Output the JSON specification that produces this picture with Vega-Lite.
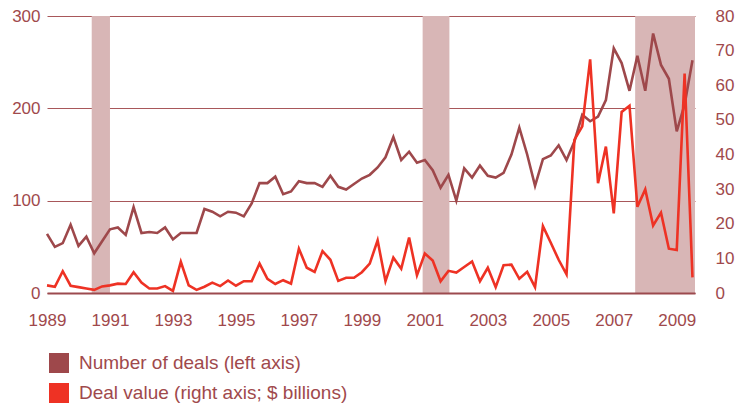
{
  "$schema": "https://vega.github.io/schema/vega-lite/v6.json",
  "autosize": {"type": "none"},
  "width": 648,
  "height": 277,
  "padding": {"left": 47, "top": 16, "right": 43, "bottom": 115},
  "background": "white",
  "config": {
    "view": {"stroke": null},
    "font": "Liberation Sans",
    "axis": {"labelFont": "Liberation Sans", "labelFontSize": 17, "labelColor": "#a0494c", "ticks": false, "domain": false, "title": null},
    "legend": {"labelFont": "Liberation Sans"}
  },
  "datasets": {
    "series": [
      {"t": 1989.0, "deals": 64, "value": 2.2}, {"t": 1989.25, "deals": 50, "value": 1.8}, {"t": 1989.5, "deals": 54, "value": 6.3}, {"t": 1989.75, "deals": 74, "value": 2.1},
      {"t": 1990.0, "deals": 51, "value": 1.7}, {"t": 1990.25, "deals": 61, "value": 1.3}, {"t": 1990.5, "deals": 43, "value": 0.9}, {"t": 1990.75, "deals": 56, "value": 1.9},
      {"t": 1991.0, "deals": 69, "value": 2.2}, {"t": 1991.25, "deals": 71, "value": 2.7}, {"t": 1991.5, "deals": 63, "value": 2.6}, {"t": 1991.75, "deals": 93, "value": 6.0},
      {"t": 1992.0, "deals": 65, "value": 3.0}, {"t": 1992.25, "deals": 66, "value": 1.3}, {"t": 1992.5, "deals": 65, "value": 1.3}, {"t": 1992.75, "deals": 71, "value": 2.0},
      {"t": 1993.0, "deals": 58, "value": 0.6}, {"t": 1993.25, "deals": 65, "value": 9.0}, {"t": 1993.5, "deals": 65, "value": 2.2}, {"t": 1993.75, "deals": 65, "value": 0.9},
      {"t": 1994.0, "deals": 91, "value": 1.8}, {"t": 1994.25, "deals": 88, "value": 3.0}, {"t": 1994.5, "deals": 83, "value": 2.0}, {"t": 1994.75, "deals": 88, "value": 3.6},
      {"t": 1995.0, "deals": 87, "value": 2.1}, {"t": 1995.25, "deals": 83, "value": 3.4}, {"t": 1995.5, "deals": 97, "value": 3.4}, {"t": 1995.75, "deals": 119, "value": 8.5},
      {"t": 1996.0, "deals": 119, "value": 4.1}, {"t": 1996.25, "deals": 126, "value": 2.6}, {"t": 1996.5, "deals": 107, "value": 3.7}, {"t": 1996.75, "deals": 110, "value": 2.7},
      {"t": 1997.0, "deals": 121, "value": 12.8}, {"t": 1997.25, "deals": 119, "value": 7.3}, {"t": 1997.5, "deals": 119, "value": 6.1}, {"t": 1997.75, "deals": 115, "value": 12.1},
      {"t": 1998.0, "deals": 127, "value": 9.6}, {"t": 1998.25, "deals": 115, "value": 3.5}, {"t": 1998.5, "deals": 112, "value": 4.4}, {"t": 1998.75, "deals": 118, "value": 4.4},
      {"t": 1999.0, "deals": 124, "value": 6.0}, {"t": 1999.25, "deals": 128, "value": 8.5}, {"t": 1999.5, "deals": 136, "value": 15.2}, {"t": 1999.75, "deals": 147, "value": 3.4},
      {"t": 2000.0, "deals": 169, "value": 10.2}, {"t": 2000.25, "deals": 144, "value": 7.0}, {"t": 2000.5, "deals": 153, "value": 16.0}, {"t": 2000.75, "deals": 141, "value": 5.1},
      {"t": 2001.0, "deals": 144, "value": 11.4}, {"t": 2001.25, "deals": 133, "value": 9.4}, {"t": 2001.5, "deals": 114, "value": 3.4}, {"t": 2001.75, "deals": 128, "value": 6.4},
      {"t": 2002.0, "deals": 100, "value": 5.9}, {"t": 2002.25, "deals": 135, "value": 7.5}, {"t": 2002.5, "deals": 125, "value": 9.1}, {"t": 2002.75, "deals": 138, "value": 3.4},
      {"t": 2003.0, "deals": 127, "value": 7.3}, {"t": 2003.25, "deals": 125, "value": 1.7}, {"t": 2003.5, "deals": 130, "value": 8.0}, {"t": 2003.75, "deals": 150, "value": 8.2},
      {"t": 2004.0, "deals": 179, "value": 4.1}, {"t": 2004.25, "deals": 150, "value": 6.1}, {"t": 2004.5, "deals": 116, "value": 1.7}, {"t": 2004.75, "deals": 145, "value": 19.3},
      {"t": 2005.0, "deals": 149, "value": 14.5}, {"t": 2005.25, "deals": 160, "value": 9.6}, {"t": 2005.5, "deals": 144, "value": 5.4}, {"t": 2005.75, "deals": 164, "value": 44.2},
      {"t": 2006.0, "deals": 193, "value": 48.1}, {"t": 2006.25, "deals": 186, "value": 67.5}, {"t": 2006.5, "deals": 191, "value": 31.7}, {"t": 2006.75, "deals": 209, "value": 42.3},
      {"t": 2007.0, "deals": 265, "value": 23.0}, {"t": 2007.25, "deals": 249, "value": 52.3}, {"t": 2007.5, "deals": 219, "value": 54.1}, {"t": 2007.75, "deals": 257, "value": 24.9},
      {"t": 2008.0, "deals": 219, "value": 29.9}, {"t": 2008.25, "deals": 281, "value": 19.5}, {"t": 2008.5, "deals": 247, "value": 23.2}, {"t": 2008.75, "deals": 232, "value": 12.8},
      {"t": 2009.0, "deals": 175, "value": 12.4}, {"t": 2009.25, "deals": 204, "value": 63.4}, {"t": 2009.5, "deals": 252, "value": 4.5}
    ],
    "recessions": [
      {"start": 1990.42, "end": 1991.0},
      {"start": 2000.93, "end": 2001.78},
      {"start": 2007.68, "end": 2009.58}
    ]
  },
  "layer": [
    {
      "data": {"name": "recessions"},
      "mark": {"type": "rect", "color": "#d8b6b6"},
      "encoding": {
        "x": {
          "field": "start", "type": "quantitative",
          "scale": {"domain": [1989, 2009.58], "nice": false, "zero": false},
          "axis": {"values": [1989, 1991, 1993, 1995, 1997, 1999, 2001, 2003, 2005, 2007, 2009], "format": "d", "labelFlush": false, "domain": true, "domainColor": "#9c4a4e", "domainWidth": 2, "zindex": 1, "grid": false, "labelPadding": 19}
        },
        "x2": {"field": "end"}
      }
    },
    {
      "data": {"name": "series"},
      "mark": {"type": "line", "strokeWidth": 2.6},
      "encoding": {
        "x": {"field": "t", "type": "quantitative"},
        "y": {
          "field": "deals", "type": "quantitative",
          "scale": {"domain": [0, 300], "nice": false},
          "axis": {"orient": "left", "values": [0, 100, 200, 300], "grid": true, "gridColor": "#a8575a", "gridWidth": 1, "labelPadding": 7}
        },
        "color": {
          "datum": "Number of deals (left axis)",
          "scale": {"domain": ["Number of deals (left axis)", "Deal value (right axis; $ billions)"], "range": ["#9e484b", "#ee3224"]},
          "legend": {
            "orient": "none", "legendX": 2, "legendY": 337, "title": null, "padding": 0,
            "symbolType": "square", "symbolSize": 400, "symbolStrokeWidth": 0,
            "labelFontSize": 19, "labelColor": "#a0494c", "labelOffset": 10, "rowPadding": 10, "labelLimit": 0,
            "encode": {"symbols": {"update": {"fill": {"scale": "color", "field": "value"}, "fillOpacity": {"value": 1}, "strokeWidth": {"value": 0}}}}
          }
        }
      }
    },
    {
      "data": {"name": "series"},
      "mark": {"type": "line", "strokeWidth": 2.6},
      "encoding": {
        "x": {"field": "t", "type": "quantitative"},
        "y": {
          "field": "value", "type": "quantitative",
          "scale": {"domain": [0, 80], "nice": false},
          "axis": {"orient": "right", "values": [0, 10, 20, 30, 40, 50, 60, 70, 80], "grid": false, "labelPadding": 20, "labelAlign": "left"}
        },
        "color": {"datum": "Deal value (right axis; $ billions)"}
      }
    }
  ],
  "resolve": {"scale": {"y": "independent"}}
}
